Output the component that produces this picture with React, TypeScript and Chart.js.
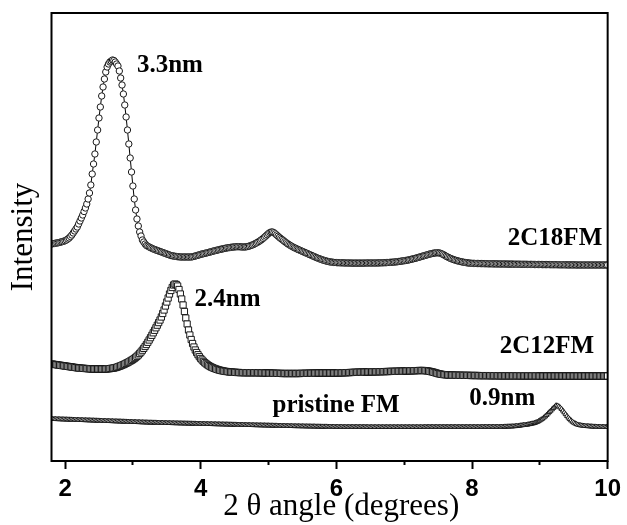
import React, { useEffect, useRef } from "react";
import { Chart, registerables } from "chart.js";

Chart.register(...registerables);

// sampling grid of the scans (2θ, degrees)
const TWO_THETA_START = 1.8;
const TWO_THETA_STEP = 0.02;

// x-axis ticks
const X_TICKS = [2, 3, 4, 5, 6, 7, 8, 9, 10];
const X_LABELED = [2, 4, 6, 8, 10];

// intensities (arbitrary units, curves already offset), one value per 0.02° from 1.80 to 10.00
const I_2C18FM = [
  216, 216.3, 216.5, 216.8, 217, 217.3, 217.6, 218, 218.4, 218.8,
  219.3, 220, 221, 222, 223.5, 225, 227, 229, 231, 233,
  236, 239, 242, 245, 248.5, 252, 256, 261, 267, 275,
  286, 296, 306, 318, 330, 342, 353, 364, 373, 381,
  388, 393, 396, 398, 399, 400, 399.5, 398, 396, 394,
  389, 382, 375, 366, 355, 343, 330, 316, 302, 288,
  274, 261, 250, 241, 234, 228, 224, 220, 218, 216,
  214.5, 213.8, 213, 212.3, 211.7, 211, 210.5, 210, 209.5, 209,
  208.5, 208, 207.5, 207, 206.5, 206, 205.5, 205, 204.5, 204.2,
  204, 203.7, 203.5, 203.3, 203.2, 203, 203, 203, 203, 203,
  203, 203, 203, 203, 203.3, 203.6, 204, 204.4, 204.8, 205.2,
  205.6, 206, 206.3, 206.6, 207, 207.3, 207.7, 208, 208.4, 208.8,
  209.2, 209.5, 209.8, 210.2, 210.5, 210.8, 211.1, 211.4, 211.7, 212,
  212.2, 212.4, 212.6, 212.8, 213, 213.1, 213.2, 213.3, 213.3, 213.2,
  213.1, 213, 213, 213.1, 213.3, 213.6, 214, 214.5, 215, 215.6,
  216.3, 217, 217.8, 218.6, 219.5, 220.5, 221.6, 222.8, 224, 225.3,
  226.5, 227.5, 228, 228, 227.3, 226.2, 225, 223.8, 222.6, 221.5,
  220.5, 219.4, 218.3, 217.3, 216.3, 215.4, 214.6, 213.8, 213, 212.3,
  211.7, 211, 210.4, 209.8, 209.2, 208.6, 208, 207.4, 206.8, 206.2,
  205.6, 205, 204.4, 203.8, 203.2, 202.6, 202, 201.5, 201, 200.5,
  200, 199.6, 199.2, 198.8, 198.5, 198.2, 198, 197.8, 197.6, 197.5,
  197.4, 197.3, 197.3, 197.2, 197.2, 197.1, 197.1, 197, 197, 197,
  197, 196.9, 196.9, 196.9, 196.9, 196.9, 196.9, 196.9, 196.9, 196.9,
  196.9, 196.9, 197, 197, 197, 197, 197, 197, 197, 197,
  197, 197.1, 197.1, 197.2, 197.2, 197.3, 197.3, 197.4, 197.5, 197.6,
  197.7, 197.8, 197.9, 198, 198.1, 198.3, 198.5, 198.7, 198.9, 199.1,
  199.3, 199.5, 199.7, 200, 200.3, 200.6, 201, 201.3, 201.6, 202,
  202.4, 202.8, 203.2, 203.6, 204, 204.4, 204.8, 205.2, 205.6, 206,
  206.3, 206.6, 206.9, 207.1, 207.2, 207.2, 207, 206.6, 206, 205.3,
  204.5, 203.7, 203, 202.3, 201.7, 201.1, 200.6, 200.1, 199.7, 199.3,
  198.9, 198.6, 198.3, 198, 197.7, 197.5, 197.3, 197.1, 196.9, 196.8,
  196.7, 196.6, 196.6, 196.5, 196.5, 196.5, 196.4, 196.4, 196.4, 196.3,
  196.3, 196.3, 196.2, 196.2, 196.2, 196.2, 196.1, 196.1, 196.1, 196.1,
  196, 196, 196, 196, 196, 196, 195.9, 195.9, 195.9, 195.9,
  195.9, 195.8, 195.8, 195.8, 195.8, 195.8, 195.7, 195.7, 195.7, 195.7,
  195.7, 195.6, 195.6, 195.6, 195.6, 195.6, 195.5, 195.5, 195.5, 195.5,
  195.5, 195.5, 195.4, 195.4, 195.4, 195.4, 195.4, 195.4, 195.3, 195.3,
  195.3, 195.3, 195.3, 195.3, 195.2, 195.2, 195.2, 195.2, 195.2, 195.2,
  195.1, 195.1, 195.1, 195.1, 195.1, 195.1, 195.1, 195, 195, 195,
  195, 195, 195, 195, 195, 195, 195, 195, 195, 195,
  195, 195, 195, 195, 195, 195, 195, 195, 195, 195,
  195,
];

const I_2C12FM = [
  96, 95.8, 95.6, 95.4, 95.2, 95, 94.8, 94.6, 94.4, 94.2,
  94, 93.8, 93.6, 93.4, 93.2, 93, 92.8, 92.6, 92.4, 92.2,
  92, 91.9, 91.8, 91.7, 91.6, 91.5, 91.4, 91.3, 91.2, 91.1,
  91, 91, 91, 91, 91, 91, 91, 91, 91, 91,
  91, 91.1, 91.2, 91.4, 91.6, 91.8, 92, 92.3, 92.7, 93.2,
  93.7, 94.2, 94.8, 95.4, 96, 96.7, 97.4, 98.1, 98.9, 99.7,
  100.5, 101.5, 102.5, 103.7, 105, 106.5, 108, 109.8, 111.6, 113.5,
  115.5, 117.7, 120, 122.3, 124.7, 127.2, 129.7, 132.2, 134.8, 137.4,
  140, 143, 146.5, 150, 154, 158, 162, 166, 169.5, 172.5,
  175, 176, 175.5, 174, 170.5, 166, 161, 155, 148.5, 142,
  136, 130, 125, 120.5, 116.5, 113, 110, 107.5, 105.3, 103.3,
  101.5, 100, 98.6, 97.3, 96.2, 95.2, 94.3, 93.5, 92.8, 92.2,
  91.6, 91.1, 90.6, 90.2, 89.8, 89.5, 89.2, 88.9, 88.7, 88.5,
  88.3, 88.1, 88, 87.9, 87.8, 87.7, 87.6, 87.5, 87.5, 87.4,
  87.4, 87.4, 87.3, 87.3, 87.3, 87.3, 87.3, 87.3, 87.3, 87.3,
  87.3, 87.3, 87.3, 87.2, 87.2, 87.2, 87.1, 87.1, 87, 87,
  87, 86.9, 86.9, 86.8, 86.8, 86.7, 86.7, 86.6, 86.6, 86.6,
  86.5, 86.5, 86.5, 86.5, 86.5, 86.5, 86.5, 86.5, 86.5, 86.5,
  86.5, 86.5, 86.5, 86.5, 86.6, 86.6, 86.6, 86.7, 86.7, 86.7,
  86.8, 86.8, 86.8, 86.9, 86.9, 86.9, 87, 87, 87, 87,
  87, 87, 87, 87, 87, 87, 87, 87, 87, 87,
  87, 87, 87.1, 87.1, 87.2, 87.2, 87.3, 87.3, 87.4, 87.4,
  87.5, 87.5, 87.6, 87.6, 87.7, 87.7, 87.8, 87.8, 87.8, 87.9,
  87.9, 87.9, 88, 88, 88, 88.1, 88.1, 88.1, 88.2, 88.2,
  88.2, 88.3, 88.3, 88.3, 88.4, 88.4, 88.4, 88.5, 88.5, 88.5,
  88.6, 88.6, 88.6, 88.7, 88.7, 88.7, 88.8, 88.8, 88.8, 88.9,
  88.9, 89, 89, 89.1, 89.1, 89.2, 89.2, 89.3, 89.3, 89.4,
  89.4, 89.5, 89.5, 89.5, 89.5, 89.4, 89.3, 89.1, 88.9, 88.6,
  88.3, 88, 87.6, 87.2, 86.8, 86.4, 86.1, 85.8, 85.6, 85.4,
  85.3, 85.2, 85.1, 85, 85, 84.9, 84.9, 84.8, 84.8, 84.8,
  84.7, 84.7, 84.7, 84.7, 84.6, 84.6, 84.6, 84.6, 84.6, 84.5,
  84.5, 84.5, 84.5, 84.5, 84.5, 84.4, 84.4, 84.4, 84.4, 84.4,
  84.4, 84.4, 84.4, 84.3, 84.3, 84.3, 84.3, 84.3, 84.3, 84.3,
  84.2, 84.2, 84.2, 84.2, 84.2, 84.2, 84.2, 84.2, 84.2, 84.2,
  84.2, 84.2, 84.2, 84.2, 84.2, 84.1, 84.1, 84.1, 84.1, 84.1,
  84.1, 84.1, 84.1, 84.1, 84.1, 84.1, 84.1, 84.1, 84.1, 84.1,
  84, 84, 84, 84, 84, 84, 84, 84, 84, 84,
  84, 84, 84, 84, 84, 84, 84, 84, 84, 84,
  84, 84, 84, 84, 84, 84, 84, 84, 84, 84,
  84, 84, 84, 84, 84, 84, 84, 84, 84, 84,
  84, 84, 84, 84, 84, 84, 84, 84, 84, 84,
  84,
];

const I_PRISTINE = [
  41.0, 41.0, 40.9, 40.9, 40.8, 40.8, 40.7, 40.7, 40.6, 40.6,
  40.5, 40.5, 40.4, 40.4, 40.3, 40.3, 40.2, 40.2, 40.1, 40.1,
  40.0, 40.0, 39.9, 39.9, 39.8, 39.8, 39.7, 39.7, 39.6, 39.6,
  39.5, 39.5, 39.4, 39.4, 39.3, 39.3, 39.2, 39.2, 39.1, 39.1,
  39.0, 39.0, 38.9, 38.9, 38.8, 38.8, 38.7, 38.7, 38.6, 38.6,
  38.5, 38.5, 38.4, 38.4, 38.3, 38.3, 38.2, 38.2, 38.1, 38.1,
  38.0, 38.0, 37.9, 37.9, 37.8, 37.8, 37.7, 37.7, 37.6, 37.6,
  37.5, 37.5, 37.4, 37.4, 37.4, 37.3, 37.3, 37.3, 37.2, 37.2,
  37.1, 37.1, 37.1, 37.0, 37.0, 37.0, 36.9, 36.9, 36.9, 36.8,
  36.8, 36.8, 36.7, 36.7, 36.7, 36.6, 36.6, 36.6, 36.5, 36.5,
  36.5, 36.4, 36.4, 36.4, 36.3, 36.3, 36.3, 36.2, 36.2, 36.2,
  36.1, 36.1, 36.1, 36.0, 36.0, 36.0, 35.9, 35.9, 35.9, 35.8,
  35.8, 35.8, 35.7, 35.7, 35.7, 35.6, 35.6, 35.6, 35.5, 35.5,
  35.5, 35.4, 35.4, 35.4, 35.3, 35.3, 35.3, 35.2, 35.2, 35.2,
  35.1, 35.1, 35.1, 35.0, 35.0, 35.0, 34.9, 34.9, 34.9, 34.8,
  34.8, 34.8, 34.7, 34.7, 34.7, 34.6, 34.6, 34.6, 34.5, 34.5,
  34.5, 34.4, 34.4, 34.4, 34.3, 34.3, 34.3, 34.2, 34.2, 34.2,
  34.1, 34.1, 34.1, 34.0, 34.0, 34.0, 33.9, 33.9, 33.9, 33.8,
  33.8, 33.8, 33.8, 33.7, 33.7, 33.7, 33.7, 33.6, 33.6, 33.6,
  33.6, 33.5, 33.5, 33.5, 33.5, 33.4, 33.4, 33.4, 33.4, 33.3,
  33.3, 33.3, 33.3, 33.3, 33.2, 33.2, 33.2, 33.2, 33.2, 33.1,
  33.1, 33.1, 33.1, 33.1, 33.1, 33.0, 33.0, 33.0, 33.0, 33.0,
  33.0, 33.0, 33.0, 33.0, 33.0, 33.0, 33.0, 33.0, 33.0, 33.0,
  33.0, 33.0, 33.0, 32.9, 32.9, 32.9, 32.9, 32.9, 32.9, 32.9,
  32.9, 32.9, 32.9, 32.9, 32.9, 32.9, 32.9, 32.9, 32.9, 32.9,
  32.9, 32.9, 32.9, 32.9, 32.9, 32.9, 32.9, 32.9, 32.9, 32.9,
  32.9, 32.9, 32.9, 32.9, 32.9, 32.9, 32.9, 32.9, 32.9, 32.9,
  32.9, 32.9, 32.9, 32.9, 32.9, 33.0, 33.0, 33.0, 33.0, 33.0,
  33.0, 33.0, 33.0, 33.0, 33.0, 33.0, 33.0, 33.0, 33.0, 33.0,
  33.0, 33.0, 33.0, 33.0, 33.0, 33.0, 33.0, 33.0, 33.0, 33.0,
  33.0, 33.0, 33.0, 33.0, 33.0, 33.0, 33.0, 33.0, 33.0, 33.0,
  33.0, 33.0, 33.0, 33.0, 33.0, 33.0, 33.0, 33.0, 33.1, 33.1,
  33.1, 33.1, 33.1, 33.1, 33.1, 33.1, 33.1, 33.1, 33.1, 33.1,
  33.1, 33.1, 33.2, 33.2, 33.3, 33.3, 33.4, 33.4, 33.5, 33.5,
  33.6, 33.7, 33.8, 34.0, 34.1, 34.3, 34.5, 34.7, 34.9, 35.0,
  35.2, 35.4, 35.7, 36.0, 36.3, 36.5, 36.9, 37.4, 38.0, 38.7,
  39.5, 40.4, 41.3, 42.4, 43.6, 45.0, 46.4, 47.8, 49.2, 50.6,
  52.0, 53.3, 54.5, 54.3, 53.5, 52.4, 51.0, 49.3, 47.5, 45.7,
  44.0, 42.3, 40.8, 39.5, 38.3, 37.3, 36.5, 35.8, 35.3, 34.9,
  34.6, 34.4, 34.2, 34.0, 33.9, 33.8, 33.7, 33.6, 33.5, 33.4,
  33.3, 33.3, 33.2, 33.2, 33.1, 33.1, 33.1, 33.0, 33.0, 33.0,
  33.0,
];

// text annotations placed in data coordinates (x = 2θ, y = intensity at text baseline)
const ANNOTATIONS = [
  { text: "3.3nm", x: 3.06, y: 388, align: "left" },
  { text: "2.4nm", x: 3.91, y: 154, align: "left" },
  { text: "0.9nm", x: 7.96, y: 55, align: "left" },
  { text: "2C18FM", x: 9.92, y: 215, align: "right" },
  { text: "2C12FM", x: 9.8, y: 107, align: "right" },
  { text: "pristine FM", x: 5.06, y: 48, align: "left" },
];

const SERIF = '"Liberation Serif", "Times New Roman", Times, serif';
const SANS = '"Liberation Sans", Arial, Helvetica, sans-serif';

const toPoints = (arr: number[]) =>
  arr.map((y, i) => ({ x: +(TWO_THETA_START + i * TWO_THETA_STEP).toFixed(2), y }));

export default function App() {
  const ref = useRef<HTMLCanvasElement | null>(null);

  useEffect(() => {
    const canvas = ref.current;
    if (!canvas) return;

    const framePlugin = {
      id: "frame",
      afterDatasetsDraw(chart: any) {
        const { ctx, chartArea } = chart;
        const { left, top, right, bottom } = chartArea;
        ctx.save();
        ctx.strokeStyle = "#000";
        ctx.lineWidth = 2;
        ctx.strokeRect(left, top, right - left, bottom - top);
        ctx.restore();
      },
    };

    const labelPlugin = {
      id: "peakLabels",
      afterDraw(chart: any) {
        const { ctx, scales } = chart;
        ctx.save();
        ctx.fillStyle = "#000";
        ctx.font = `bold 25px ${SERIF}`;
        ctx.textBaseline = "alphabetic";
        for (const a of ANNOTATIONS) {
          ctx.textAlign = a.align;
          ctx.fillText(a.text, scales.x.getPixelForValue(a.x), scales.y.getPixelForValue(a.y));
        }
        ctx.restore();
      },
    };

    const common = {
      borderColor: "#000",
      borderWidth: 1,
      pointBorderColor: "#1a1a1a",
      pointBackgroundColor: "#fff",
      pointBorderWidth: 1,
      tension: 0,
      showLine: true,
    };

    const chart = new Chart(canvas, {
      type: "line",
      data: {
        datasets: [
          { ...common, label: "2C18FM", data: toPoints(I_2C18FM), pointStyle: "circle", pointRadius: 3.2 },
          { ...common, label: "2C12FM", data: toPoints(I_2C12FM), pointStyle: "rect", pointRadius: 4.4 },
          { ...common, label: "pristine FM", data: toPoints(I_PRISTINE), pointStyle: "triangle", pointRadius: 2.8 },
        ],
      },
      options: {
        responsive: false,
        maintainAspectRatio: false,
        animation: false,
        devicePixelRatio: 1,
        layout: { padding: { top: 13, right: 19, left: 0, bottom: 0 } },
        plugins: {
          legend: { display: false },
          tooltip: { enabled: false },
        },
        scales: {
          x: {
            type: "linear",
            min: 1.8,
            max: 10,
            afterBuildTicks: (s: any) => {
              s.ticks = X_TICKS.map((v) => ({ value: v }));
            },
            afterFit: (s: any) => {
              s.height = 64;
            },
            ticks: {
              autoSkip: false,
              maxRotation: 0,
              padding: 6,
              color: "#000",
              font: { family: SANS, size: 24, weight: "bold" },
              callback: (v: any) => (X_LABELED.includes(Number(v)) ? String(v) : ""),
            },
            grid: {
              display: true,
              drawOnChartArea: false,
              drawTicks: true,
              tickLength: 8,
              tickWidth: 2,
              tickColor: "#000",
              tickBorderDash: (c: any) =>
                c.tick && X_LABELED.includes(c.tick.value) ? [] : [4, 30],
            },
            border: { display: false },
            title: {
              display: true,
              text: "\u2002 2 θ angle (degrees)",
              color: "#000",
              font: { family: SERIF, size: 31, weight: "normal" },
              padding: { top: 0, bottom: 0 },
            },
          },
          y: {
            type: "linear",
            min: -1,
            max: 447,
            afterFit: (s: any) => {
              s.width = 51.5;
            },
            ticks: { display: false },
            grid: { display: false },
            border: { display: false },
            title: {
              display: true,
              text: "Intensity",
              color: "#000",
              font: { family: SERIF, size: 31, weight: "normal" },
              padding: { top: 5, bottom: 0 },
            },
          },
        },
      } as any,
      plugins: [framePlugin, labelPlugin],
    });

    return () => chart.destroy();
  }, []);

  return (
    <div style={{ position: "fixed", left: 0, top: 0, width: 627, height: 525, background: "#fff" }}>
      <canvas ref={ref} width={627} height={525} style={{ display: "block", width: 627, height: 525 }} />
    </div>
  );
}
